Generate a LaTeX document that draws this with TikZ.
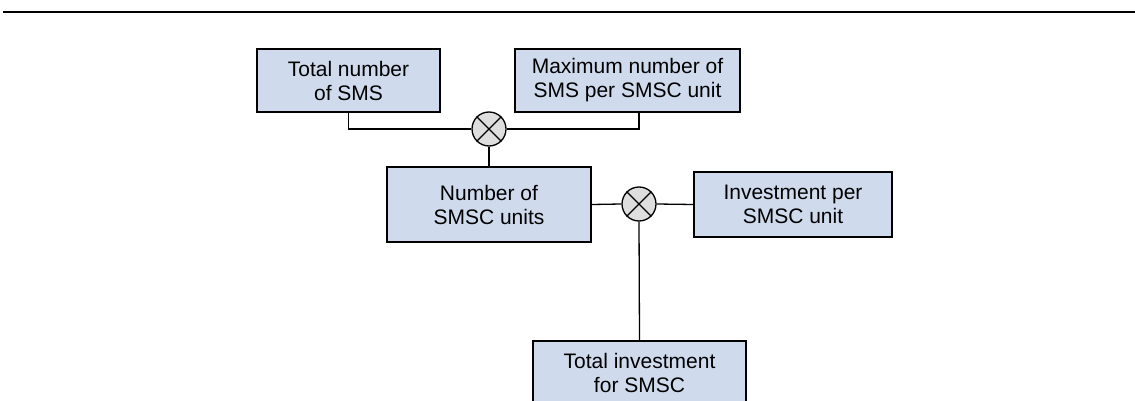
\documentclass[tikz,border=0pt]{standalone}
\usepackage{fontspec}
\setmainfont{Liberation Sans}
\definecolor{boxfill}{RGB}{207,219,237}
\definecolor{opfill}{RGB}{222,222,222}
\begin{document}
\begin{tikzpicture}[x=1pt,y=-1pt,
  box/.style={draw=black, line width=1.4pt, fill=boxfill, rectangle,
    align=center, inner sep=0pt, font=\fontsize{21}{24}\selectfont},
  op/.style={draw=black, line width=1.3pt, fill=opfill, circle,
    minimum size=34pt, inner sep=0pt},
  link/.style={draw=black, line width=1.3pt}]
  \useasboundingbox (0,0) rectangle (1135,401);
  \clip (0,0) rectangle (1135,401);

  % rule across the top
  \coordinate (ruleL) at (3,12);
  \coordinate (ruleR) at (1135,12);
  \draw[line width=2.2pt] (ruleL) -- (ruleR);

  % quantities
  \node[box, minimum width=183pt, minimum height=63pt] (b1) at (348.5,80.5) {Total number\\of SMS};
  \node[box, minimum width=225pt, minimum height=63pt] (b2) at (627.5,80.5) {Maximum number of\\SMS per SMSC unit};
  \node[box, minimum width=204pt, minimum height=75pt] (b3) at (489,204.5) {Number of\\SMSC units};
  \node[box, minimum width=198pt, minimum height=65pt] (b4) at (793,204.5) {Investment per\\SMSC unit};
  \node[box, minimum width=213pt, minimum height=63pt] (b5) at (639.5,372.5) {Total investment\\for SMSC};

  % multiplication operators
  \node[op] (c1) at (489,129) {};
  \node[op] (c2) at (639,204) {};
  \foreach \c in {c1,c2}{
    \draw[line width=1.3pt] (\c.north west) -- (\c.south east);
    \draw[line width=1.3pt] (\c.north east) -- (\c.south west);
  }

  % connectors
  \draw[link] (b1.south) |- (c1.west);
  \draw[link] (c2 |- b2.south) |- (c1.east);
  \draw[link] (c1.south) -- (b3.north);
  \draw[link] (b3.east) -- (c2.west);
  \draw[link] (c2.east) -- (b4.west);
  \draw[link] (c2.south) -- (b5.north);
\end{tikzpicture}
\end{document}
